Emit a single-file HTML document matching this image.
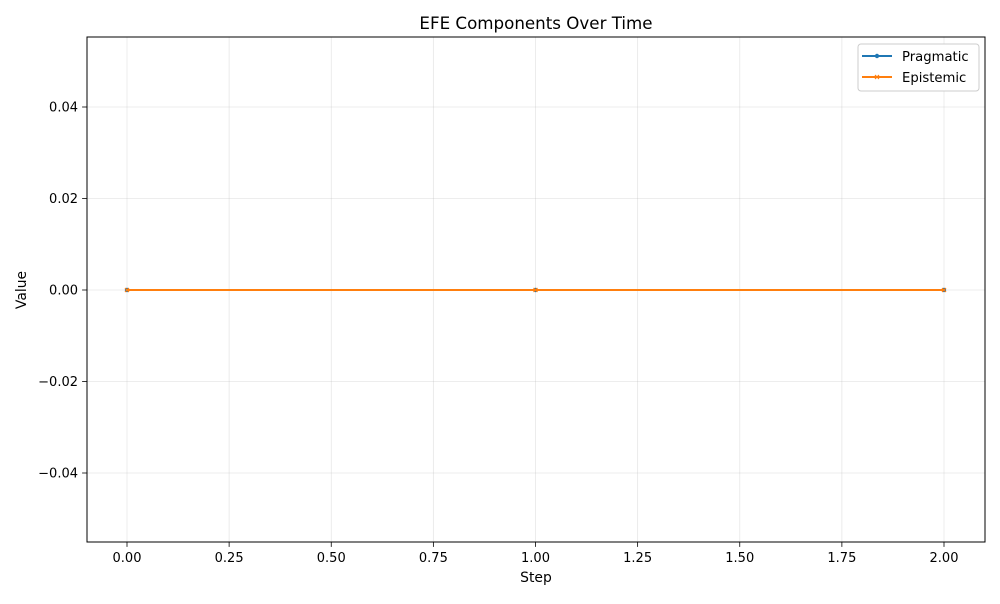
<!DOCTYPE html>
<html><head><meta charset="utf-8"><style>
body{margin:0;background:#fff;font-family:"DejaVu Sans","Liberation Sans",sans-serif;}
svg text{font-family:"DejaVu Sans","Liberation Sans",sans-serif;}
</style></head><body>
<svg id="chart" width="1000" height="600" xmlns="http://www.w3.org/2000/svg">
<rect width="1000" height="600" fill="#fff"/>
<g id="grid"></g>
<g id="axes"></g>
<g id="series"></g>
<text x="536" y="29" font-size="16.7" text-anchor="middle">EFE Components Over Time</text>
<text x="536" y="582" font-size="13.9" text-anchor="middle">Step</text>
<text x="26" y="290" font-size="13.9" text-anchor="middle" transform="rotate(-90 26 290)">Value</text>
<g>
<rect x="858" y="44" width="121" height="47" rx="3" fill="#fff" stroke="#ccc"/>
<g>
<line x1="862" y1="56" x2="892" y2="56" stroke="#1f77b4" stroke-width="2"/>
<circle cx="877" cy="56" r="2.2" fill="#1f77b4"/>
<text x="902" y="61" font-size="13.2">Pragmatic</text></g>
<g>
<line x1="862" y1="77" x2="892" y2="77" stroke="#ff7f0e" stroke-width="2"/>
<path d="M875 75l4 4M879 75l-4 4" stroke="#ff7f0e" stroke-width="1.2"/>
<text x="902" y="82" font-size="13.2">Epistemic</text></g>
</g>
</svg>
<script>
const steps=[0,1,2];
const pragmatic=[0,0,0];
const epistemic=[0,0,0];
const xTicks=[0,0.25,0.5,0.75,1,1.25,1.5,1.75,2];
const yTicks=[-0.04,-0.02,0,0.02,0.04];
const L=87,R=985,T=37,B=542;
const xs=v=>127+(v-0)*(944-127)/2;
const ys=v=>290-v*(473-107)/0.08;
const NS="http://www.w3.org/2000/svg";
function mk(t,a,p){const e=document.createElementNS(NS,t);for(const k in a)e.setAttribute(k,a[k]);p.appendChild(e);return e;}
const g=document.getElementById('grid'),ax=document.getElementById('axes'),s=document.getElementById('series');
xTicks.forEach(t=>{const x=xs(t);
const gl=mk('line',{x1:x,x2:x,y1:T,y2:B,stroke:'#b0b0b0','stroke-opacity':0.3,'stroke-width':0.8},g);

mk('line',{x1:x,x2:x,y1:B,y2:B+4.9,stroke:'#000','stroke-width':0.8},ax);
const tx=mk('text',{x:x,y:B+20,'font-size':13,'text-anchor':'middle'},ax);tx.textContent=t.toFixed(2);
});
yTicks.forEach(t=>{const y=ys(t);
const gl=mk('line',{x1:L,x2:R,y1:y,y2:y,stroke:'#b0b0b0','stroke-opacity':0.3,'stroke-width':0.8},g);

mk('line',{x1:L-4.9,x2:L,y1:y,y2:y,stroke:'#000','stroke-width':0.8},ax);
const tx=mk('text',{x:L-9,y:y+4.7,'font-size':13,'text-anchor':'end'},ax);tx.textContent=(t<0?'\u2212':'')+Math.abs(t).toFixed(2);
});
const fr=mk('rect',{x:L,y:T,width:R-L,height:B-T,fill:'none',stroke:'#000','stroke-width':1},ax);

function line(vals,c,name){const p=mk('polyline',{points:steps.map((x,i)=>xs(x)+','+ys(vals[i])).join(' '),fill:'none',stroke:c,'stroke-width':2},s);
}
line(pragmatic,'#1f77b4','pragmatic');
pragmatic.forEach((v,i)=>{const c=mk('circle',{cx:xs(steps[i]),cy:ys(v),r:2.2,fill:'#1f77b4'},s);
});
line(epistemic,'#ff7f0e','epistemic');
epistemic.forEach((v,i)=>{const x=xs(steps[i]),y=ys(v);
const p=mk('path',{d:`M${x-2} ${y-2}l4 4M${x+2} ${y-2}l-4 4`,stroke:'#ff7f0e','stroke-width':1.2},s);
});
</script>
</body></html>
